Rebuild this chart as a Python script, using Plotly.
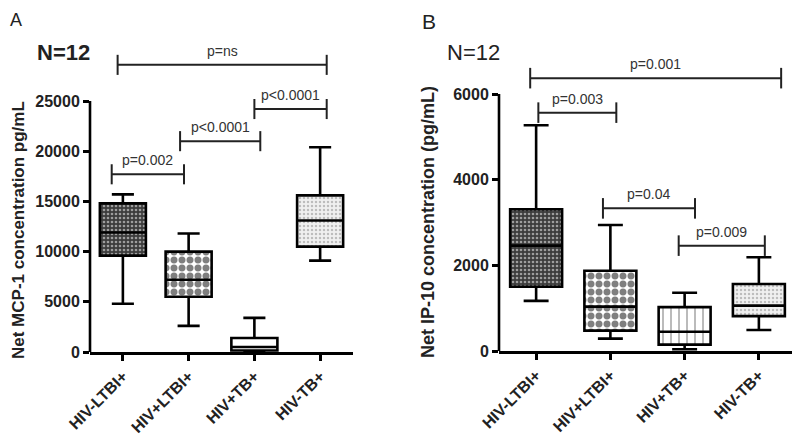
import plotly.graph_objects as go

# page body has an 8px margin: figure is drawn from screen (8, 8)
OFF = 8
W, H = 792, 435

categories = ["HIV-LTBI+", "HIV+LTBI+", "HIV+TB+", "HIV-TB+"]

# Panel A: Net MCP-1 concentration (pg/mL)
mcp_lower = [4800, 2600, 0, 9100]
mcp_q1 = [9600, 5500, 150, 10500]
mcp_median = [11900, 7200, 500, 13100]
mcp_q3 = [14800, 10000, 1400, 15600]
mcp_upper = [15700, 11800, 3400, 20400]
mcp_ticks = [0, 5000, 10000, 15000, 20000, 25000]

# Panel B: Net IP-10 concentration (pg/mL)
ip_lower = [1170, 290, 40, 490]
ip_q1 = [1500, 475, 150, 815]
ip_median = [2460, 1035, 450, 1060]
ip_q3 = [3310, 1875, 1025, 1565]
ip_upper = [5270, 2940, 1360, 2190]
ip_ticks = [0, 2000, 4000, 6000]

# p-value labels
mcp_pvalues = ["p=ns", "p<0.0001", "p<0.0001", "p=0.002"]
ip_pvalues = ["p=0.001", "p=0.003", "p=0.04", "p=0.009"]

# bracket geometry (layout): x-start, x-end (category units), level (data units)
mcp_brackets = [(-0.08, 3.10, 28600), (2.00, 3.10, 24200), (0.87, 2.09, 21000), (-0.17, 0.93, 17700)]
ip_brackets = [(-0.08, 3.30, 6370), (0.03, 1.08, 5565), (0.90, 2.14, 3330), (1.92, 3.08, 2460)]

FONT = "Liberation Sans, Arial, sans-serif"
xpos = list(range(len(categories)))


def px(x):
    return (x - OFF) / W


def py(y):
    return 1 - (y - OFF) / H


# fill styles per box
patterns_A = [
    dict(shape=".", fgcolor="#ffffff", bgcolor="#3c3c3c", size=4, solidity=0.35),
    dict(shape=".", fgcolor="#000000", bgcolor="#ffffff", size=8, solidity=0.6),
    dict(shape="", fgcolor="#000000", bgcolor="#ffffff"),
    dict(shape=".", fgcolor="#8a8a8a", bgcolor="#f0f0f0", size=4, solidity=0.3),
]
patterns_B = [
    dict(shape=".", fgcolor="#ffffff", bgcolor="#3c3c3c", size=4, solidity=0.35),
    dict(shape=".", fgcolor="#000000", bgcolor="#ffffff", size=8, solidity=0.6),
    dict(shape="|", fgcolor="#555555", bgcolor="#ffffff", size=8, solidity=0.2),
    dict(shape=".", fgcolor="#8a8a8a", bgcolor="#f0f0f0", size=4, solidity=0.3),
]

fig = go.Figure()


def add_panel(xa, ya, lower, q1, med, q3, upper, pats):
    for i in xpos:
        fig.add_trace(go.Bar(
            x=[xpos[i]], y=[q3[i] - q1[i]], base=[q1[i]], width=0.7,
            marker=dict(color="white", line=dict(width=0), pattern=pats[i]),
            xaxis=xa, yaxis=ya, showlegend=False, hoverinfo="skip"))
    fig.add_trace(go.Box(
        x=xpos, q1=q1, median=med, q3=q3, lowerfence=lower, upperfence=upper,
        width=0.7, whiskerwidth=0.48, fillcolor="rgba(0,0,0,0)",
        line=dict(color="black", width=2.6), boxpoints=False,
        xaxis=xa, yaxis=ya, showlegend=False))


add_panel("x", "y", mcp_lower, mcp_q1, mcp_median, mcp_q3, mcp_upper, patterns_A)
add_panel("x2", "y2", ip_lower, ip_q1, ip_median, ip_q3, ip_upper, patterns_B)

tickfont = dict(family=FONT, size=16, color="#222", weight="bold")
catfont = dict(family=FONT, size=16, color="#222", weight="bold")


def xaxis_cfg(dom):
    return dict(domain=dom, range=[-0.5, 3.5], tickvals=xpos, ticktext=categories,
                tickangle=-45, showline=True, linewidth=2.6, linecolor="black",
                ticks="outside", ticklen=6, tickwidth=2.6, tickcolor="black",
                showgrid=False, zeroline=False, tickfont=catfont, automargin=False)


def yaxis_cfg(dom, rng, tv):
    return dict(domain=dom, range=rng, tickvals=tv, tickformat="d", showline=False,
                ticks="outside", ticklen=6, tickwidth=2.6, tickcolor="black",
                showgrid=False, zeroline=False, tickfont=tickfont, automargin=False)


A_left, A_right = px(90), px(353)
B_left, B_right = px(499), px(796)
A_bottom, B_bottom = py(352), py(351)
TOP = py(40)
A_top_val = (352 - 40) * 25000 / 251
B_top_val = (351 - 40) * 6000 / 257

fig.update_layout(
    width=W, height=H, margin=dict(l=0, r=0, t=0, b=0, autoexpand=False),
    paper_bgcolor="white", plot_bgcolor="white", barmode="overlay", bargap=0,
    xaxis=xaxis_cfg([A_left, A_right]),
    yaxis=yaxis_cfg([A_bottom, TOP], [0, A_top_val], mcp_ticks),
    xaxis2=dict(xaxis_cfg([B_left, B_right]), anchor="y2"),
    yaxis2=dict(yaxis_cfg([B_bottom, TOP], [0, B_top_val], ip_ticks), anchor="x2"),
)

shapes = []
annotations = []
# y axis lines stopping at top tick
shapes.append(dict(type="line", xref="paper", yref="y", x0=A_left, x1=A_left,
                   y0=0, y1=mcp_ticks[-1], line=dict(color="black", width=2.6)))
shapes.append(dict(type="line", xref="paper", yref="y2", x0=B_left, x1=B_left,
                   y0=0, y1=ip_ticks[-1], line=dict(color="black", width=2.6)))


def add_brackets(xr, yr, brackets, labels, tick_half):
    for (x0, x1, lev), lab in zip(brackets, labels):
        lc = dict(color="#222", width=2)
        shapes.append(dict(type="line", xref=xr, yref=yr, x0=x0, x1=x1, y0=lev, y1=lev, line=lc))
        for xx in (x0, x1):
            shapes.append(dict(type="line", xref=xr, yref=yr, x0=xx, x1=xx,
                               y0=lev - tick_half, y1=lev + tick_half, line=lc))
        annotations.append(dict(xref=xr, yref=yr, x=(x0 + x1) / 2, y=lev, text=lab,
                                showarrow=False, yanchor="middle", yshift=14,
                                font=dict(family=FONT, size=14, color="#333")))


add_brackets("x", "y", mcp_brackets, mcp_pvalues, 1000)
add_brackets("x2", "y2", ip_brackets, ip_pvalues, 240)

# panel letters, N labels, axis titles
annotations += [
    dict(xref="paper", yref="paper", x=0, y=1, text="A", showarrow=False,
         xanchor="left", yanchor="top", font=dict(family=FONT, size=18, color="#222")),
    dict(xref="paper", yref="paper", x=px(420), y=1, text="B", showarrow=False,
         xanchor="left", yanchor="top", font=dict(family=FONT, size=21, color="#222")),
    dict(xref="paper", yref="paper", x=px(63), y=py(53), text="N=12", showarrow=False,
         xanchor="center", yanchor="middle", font=dict(family=FONT, size=22, color="#222", weight="bold")),
    dict(xref="paper", yref="paper", x=px(473), y=py(53), text="N=12", showarrow=False,
         xanchor="center", yanchor="middle", font=dict(family=FONT, size=22, color="#222")),
    dict(xref="paper", yref="paper", x=px(18), y=py(230), text="Net MCP-1 concentration pg/mL",
         showarrow=False, textangle=-90, xanchor="center", yanchor="middle",
         font=dict(family=FONT, size=17, color="#222", weight="bold")),
    dict(xref="paper", yref="paper", x=px(428), y=py(222), text="Net IP-10 concentration (pg/mL)",
         showarrow=False, textangle=-90, xanchor="center", yanchor="middle",
         font=dict(family=FONT, size=18, color="#222", weight="bold")),
]

fig.update_layout(shapes=shapes, annotations=annotations)
fig.write_html("out.html")
